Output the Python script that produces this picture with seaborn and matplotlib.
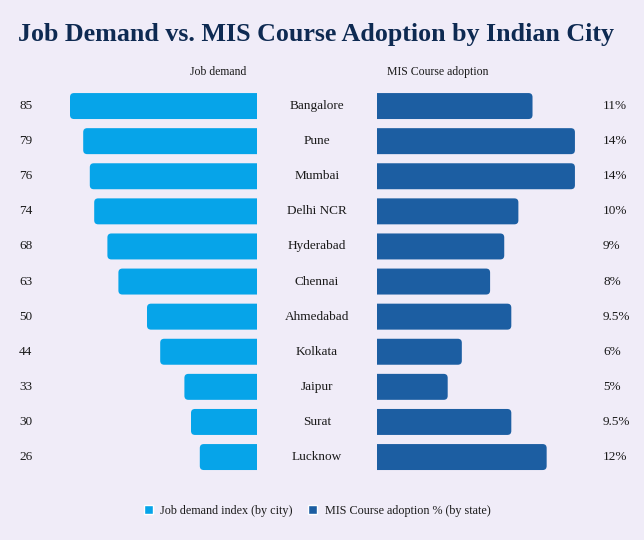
import matplotlib
matplotlib.use("Agg")
import matplotlib.pyplot as plt
import matplotlib.transforms as mtransforms
from matplotlib.patches import FancyBboxPatch, Patch
import pandas as pd
import seaborn as sns

# ---- data ----
cities = ["Bangalore", "Pune", "Mumbai", "Delhi NCR", "Hyderabad", "Chennai",
          "Ahmedabad", "Kolkata", "Jaipur", "Surat", "Lucknow"]
job_demand = [85, 79, 76, 74, 68, 63, 50, 44, 33, 30, 26]
mis_adoption = [11, 14, 14, 10, 9, 8, 9.5, 6, 5, 9.5, 12]
mis_labels = ["11%", "14%", "14%", "10%", "9%", "8%", "9.5%", "6%", "5%", "9.5%", "12%"]

df = pd.DataFrame({"city": cities, "job": job_demand, "mis": mis_adoption})

BG = "#F0ECF8"
LEFT_C = "#06A4E9"
RIGHT_C = "#1C5EA2"
TITLE_C = "#0E2A52"
TXT_C = "#1a1a1a"

sns.set_theme(style="white")
plt.rcParams["font.family"] = ["Liberation Serif", "DejaVu Serif"]

W, H = 644, 540
fig = plt.figure(figsize=(W / 100, H / 100), dpi=100, facecolor=BG)

def px_axes(x0, x1, top, bottom):
    return fig.add_axes([x0 / W, 1 - bottom / H, (x1 - x0) / W, (bottom - top) / H])

top_px, bot_px = 88.5, 474.6
ax_l = px_axes(48, 257, top_px, bot_px)
ax_r = px_axes(377, 582, top_px, bot_px)

sns.barplot(data=df, x="job", y="city", color=LEFT_C, width=0.74,
            saturation=1, ax=ax_l, orient="h")
sns.barplot(data=df, x="mis", y="city", color=RIGHT_C, width=0.74,
            saturation=1, ax=ax_r, orient="h")

ax_l.set_xlim(95, 0)
ax_r.set_xlim(0, 14.5)

for ax in (ax_l, ax_r):
    ax.set_facecolor("none")
    ax.set_xlabel("")
    ax.set_ylabel("")
    ax.set_xticks([])
    ax.set_yticks([])
    ax.set_ylim(10.5, -0.5)
    sns.despine(ax=ax, left=True, bottom=True)

# round the outer corners of each bar (inner side clipped by the axes)
fig.canvas.draw()
r = 4
for ax, side in ((ax_l, "left"), (ax_r, "right")):
    for p in list(ax.patches):
        bb = p.get_window_extent()
        x0, x1, y0, y1 = bb.x0, bb.x1, bb.y0, bb.y1
        if side == "left":
            x1 += 2 * r
        else:
            x0 -= 2 * r
        fc = p.get_facecolor()
        p.remove()
        fb = FancyBboxPatch((x0 + r, y0 + r), (x1 - x0) - 2 * r, (y1 - y0) - 2 * r,
                            boxstyle=f"round,pad={r},rounding_size={r}",
                            facecolor=fc, edgecolor="none",
                            transform=mtransforms.IdentityTransform())
        ax.add_artist(fb)
        fb.set_clip_box(ax.bbox)

# labels
tl = mtransforms.blended_transform_factory(fig.transFigure, ax_l.transData)
for i, city in enumerate(cities):
    fig.text(19 / W, i, str(job_demand[i]), transform=tl, ha="left", va="center",
             fontsize=9.5, color=TXT_C)
    fig.text(317 / W, i, city, transform=tl, ha="center", va="center",
             fontsize=9.5, color=TXT_C)
    fig.text(603 / W, i, mis_labels[i], transform=tl, ha="left", va="center",
             fontsize=9.5, color=TXT_C)

fig.text(218 / W, 1 - 72 / H, "Job demand", ha="center", va="center",
         fontsize=8.5, color=TXT_C)
fig.text(438 / W, 1 - 72 / H, "MIS Course adoption", ha="center", va="center",
         fontsize=8.5, color=TXT_C)

fig.text(316 / W, 1 - 34 / H, "Job Demand vs. MIS Course Adoption by Indian City",
         ha="center", va="center", fontsize=18.7, fontweight="bold", color=TITLE_C)

handles = [Patch(facecolor=LEFT_C, label="Job demand index (by city)"),
           Patch(facecolor=RIGHT_C, label="MIS Course adoption % (by state)")]
fig.legend(handles=handles, loc="center", bbox_to_anchor=(317 / W, 1 - 511 / H),
           ncol=2, frameon=False, fontsize=8.7, handlelength=0.75, handleheight=0.75,
           handletextpad=0.6, columnspacing=1.3, labelcolor=TXT_C)

fig.savefig("out.png", dpi=100, facecolor=BG)
